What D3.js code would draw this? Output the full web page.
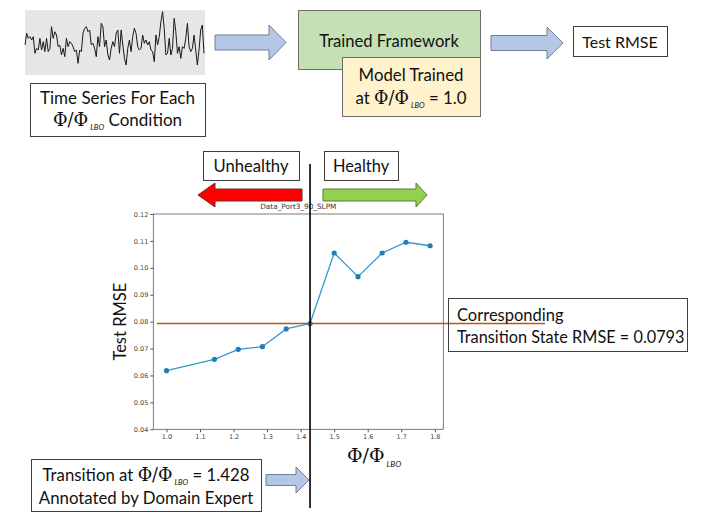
<!DOCTYPE html>
<html>
<head>
<meta charset="utf-8">
<title>Transition RMSE</title>
<style>
  body { margin: 0; padding: 0; background: #fff; }
  svg { display: block; }
  .lbl { font-family: Lato, "Open Sans", sans-serif; fill: #111; }
  .tick text { font-family: "DejaVu Sans", sans-serif; font-size: 6.5px; fill: #444; }
  .tick line { stroke: #555; }
</style>
</head>
<body>
<div id="fig"></div>
<script src="https://cdnjs.cloudflare.com/ajax/libs/d3/7.8.5/d3.min.js"></script>
<script>
// ---- data ----
var phiRatio = [1.0, 1.143, 1.214, 1.286, 1.357, 1.428, 1.5, 1.571, 1.643, 1.714, 1.786];
var testRmse = [0.0618, 0.0660, 0.0697, 0.0707, 0.0773, 0.0793, 0.1055, 0.0967, 0.1055, 0.1095, 0.1082];
var transitionPhi = 1.428;
var transitionRmse = 0.0793;
var yTicks = [0.04, 0.05, 0.06, 0.07, 0.08, 0.09, 0.10, 0.11, 0.12];
var xTicks = [1.0, 1.1, 1.2, 1.3, 1.4, 1.5, 1.6, 1.7, 1.8];
// sample pressure trace in the top-left thumbnail (arbitrary units)
var signal = [90,125,110,115,105,115,65,80,75,110,75,100,70,110,70,80,145,110,130,120,85,90,60,80,55,
  110,85,100,95,85,70,75,35,75,70,125,140,145,130,135,90,95,80,55,115,85,155,145,85,105,60,45,80,100,
  85,125,135,65,135,90,50,30,80,105,70,115,140,125,85,75,80,120,95,105,90,100,75,70,40,120,90,115,160,
  190,140,60,65,110,60,80,170,130,65,85,50,85,80,110,155,85,70,80,120,75,30,75,135,150,65];

var W = 707, H = 524;
var svg = d3.select("#fig").append("svg").attr("width", W).attr("height", H);
svg.append("rect").attr("width", W).attr("height", H).attr("fill", "#fff");

function box(x, y, w, h, fill, stroke) {
    return svg.append("rect")
        .attr("x", x + 0.5).attr("y", y + 0.5)
        .attr("width", w).attr("height", h)
        .attr("fill", fill || "none")
        .attr("stroke", stroke || "#3f3f3f")
        .attr("stroke-width", 1);
}

// horizontal block arrow, dir = 1 (right) or -1 (left)
function blockArrow(x0, x1, cy, shaft, head, headLen, dir, fill, stroke) {
    var tip = dir > 0 ? x1 : x0, tail = dir > 0 ? x0 : x1;
    var base = tip - dir * headLen;
    var pts = [
        [tail, cy - shaft / 2], [base, cy - shaft / 2], [base, cy - head / 2], [tip, cy],
        [base, cy + head / 2], [base, cy + shaft / 2], [tail, cy + shaft / 2]
    ];
    svg.append("path")
        .attr("d", d3.line()(pts) + "Z")
        .attr("fill", fill).attr("stroke", stroke).attr("stroke-width", 1);
}

// text with optional Φ/Φ_LBO piece; parts: strings or {phi:true}
function label(x, y, size, parts, anchor) {
    var t = svg.append("text").attr("class", "lbl")
        .attr("x", x).attr("y", y)
        .attr("font-size", size)
        .attr("text-anchor", anchor || "middle");
    parts.forEach(function (p) {
        if (typeof p === "string") {
            t.append("tspan").text(p);
        } else {
            t.append("tspan").attr("font-family", "'DejaVu Serif', serif").attr("font-size", size * 1.05).text("Φ/Φ");
            t.append("tspan").attr("font-size", size * 0.45).attr("font-style", "italic")
                .attr("dx", 2).attr("dy", size * 0.25).text("LBO");
            t.append("tspan").attr("dy", -size * 0.25).text("\u00a0");
        }
    });
    return t;
}

var blueFill = "#b4c7e7", blueStroke = "#6f7f96";

// ---- top row ----
svg.append("rect").attr("x", 25).attr("y", 10).attr("width", 180).attr("height", 65).attr("fill", "#e7e6e6");
var sx = d3.scaleLinear().domain([0, signal.length - 1]).range([25, 204]);
var sy = d3.scaleLinear().domain([0, 195]).range([75, 10]);
svg.append("path").datum(signal)
    .attr("d", d3.line().x(function (d, i) { return sx(i); }).y(function (d) { return sy(d); }))
    .attr("fill", "none").attr("stroke", "#1a1a1a").attr("stroke-width", 1);

box(30, 83, 175, 53);
label(117.5, 104, 17, ["Time Series For Each"]);
label(117.5, 126, 17, [{ phi: true }, "Condition"]);

blockArrow(215, 286, 42.5, 15, 35, 17, 1, blueFill, blueStroke);

box(298, 10, 182, 59, "#c5e0b4", "#6d6d6d");
label(389, 47, 16.6, ["Trained Framework"]);
box(342, 57, 138, 59, "#fff2cc", "#6d6d6d");
label(411, 81, 16.8, ["Model Trained"]);
label(411, 104, 16.8, ["at ", { phi: true }, "= 1.0"]);

blockArrow(491, 563, 43, 15, 32, 16, 1, blueFill, blueStroke);

box(573, 26, 94, 30);
label(620, 48, 16, ["Test RMSE"]);

// ---- chart ----
var plot = { left: 153.3, right: 443.3, top: 214, bottom: 429.3 };
var x = d3.scaleLinear().domain([0.9607, 1.8253]).range([plot.left, plot.right]);
var y = d3.scaleLinear().domain([0.04, 0.12]).range([plot.bottom, plot.top]);

svg.append("g").attr("transform", "translate(0," + plot.bottom + ")")
    .call(d3.axisBottom(x).tickValues(xTicks).tickFormat(d3.format(".1f")).tickSize(3).tickPadding(2))
    .call(function (g) { g.select(".domain").remove(); });
svg.append("g").attr("transform", "translate(" + plot.left + ",0)")
    .call(d3.axisLeft(y).tickValues(yTicks).tickFormat(d3.format(".2f")).tickSize(3).tickPadding(2))
    .call(function (g) { g.select(".domain").remove(); });

svg.append("rect")
    .attr("x", plot.left).attr("y", plot.top)
    .attr("width", plot.right - plot.left).attr("height", plot.bottom - plot.top)
    .attr("fill", "none").attr("stroke", "#5a5a5a").attr("stroke-width", 0.8);

svg.append("text")
    .attr("x", (plot.left + plot.right) / 2).attr("y", 209)
    .attr("text-anchor", "middle")
    .attr("font-family", "'DejaVu Sans', sans-serif").attr("font-size", 7.3).attr("fill", "#333")
    .text("Data_Port3_90_SLPM");

var pts = phiRatio.map(function (d, i) { return [d, testRmse[i]]; });
svg.append("path").datum(pts)
    .attr("d", d3.line().x(function (d) { return x(d[0]); }).y(function (d) { return y(d[1]); }))
    .attr("fill", "none").attr("stroke", "#3399cc").attr("stroke-width", 1.3);
svg.selectAll(".pt").data(pts).enter().append("circle")
    .attr("class", "pt")
    .attr("cx", function (d) { return x(d[0]); })
    .attr("cy", function (d) { return y(d[1]); })
    .attr("r", 2.6).attr("fill", "#1f7fb5");

// transition RMSE line
svg.append("line")
    .attr("x1", 157).attr("x2", 545)
    .attr("y1", y(transitionRmse)).attr("y2", y(transitionRmse))
    .attr("stroke", "#c0560f").attr("stroke-width", 1.4);

// transition phi line
svg.append("line")
    .attr("x1", x(transitionPhi)).attr("x2", x(transitionPhi))
    .attr("y1", 164).attr("y2", 508)
    .attr("stroke", "#000").attr("stroke-width", 1.6);

// axis labels
svg.append("text").attr("class", "lbl")
    .attr("transform", "translate(126," + ((plot.top + plot.bottom) / 2) + ") rotate(-90)")
    .attr("text-anchor", "middle").attr("font-size", 16.5)
    .text("Test RMSE");
var xl = svg.append("text").attr("x", 347).attr("y", 462).attr("class", "lbl");
xl.append("tspan").attr("font-family", "'DejaVu Serif', serif").attr("font-size", 19).text("Φ/Φ");
xl.append("tspan").attr("font-size", 8).attr("font-style", "italic").attr("dx", 2).attr("dy", 5).text("LBO");

// healthy / unhealthy
box(203, 151, 96, 29);
label(251, 172, 16.6, ["Unhealthy"]);
box(324, 151, 74, 29);
label(361, 172, 16.4, ["Healthy"]);
blockArrow(198, 302, 195, 12, 24, 17, -1, "#ff0000", "#6b2a2a");
blockArrow(323, 427, 195, 12, 24, 11, 1, "#92d050", "#5b7a3a");

// corresponding RMSE box
box(448, 298, 239, 53);
label(457, 321, 16.5, ["Corresponding"], "start");
label(457, 343, 16.3, ["Transition State RMSE = " + transitionRmse], "start");

// transition annotation
box(31, 459, 230, 52);
label(146, 481, 16.8, ["Transition at ", { phi: true }, "= " + transitionPhi.toFixed(3)]);
label(146, 504, 16.8, ["Annotated by Domain Expert"]);
blockArrow(266, 309, 480, 11, 26, 13, 1, blueFill, blueStroke);
</script>
</body>
</html>
